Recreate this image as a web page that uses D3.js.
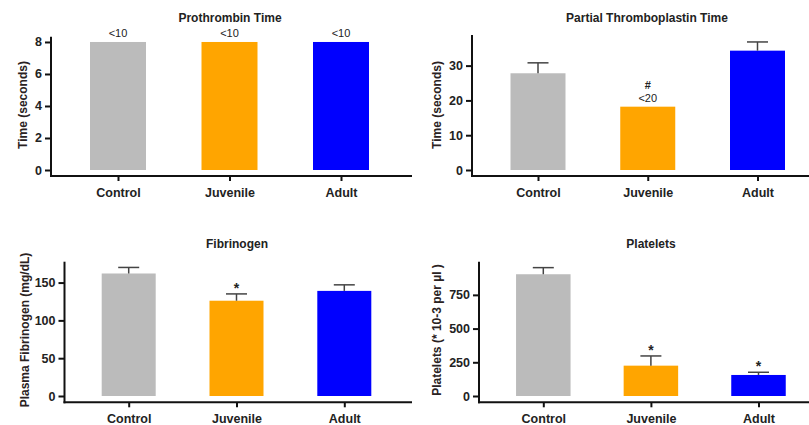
<!DOCTYPE html>
<html><head><meta charset="utf-8">
<script src="https://cdn.jsdelivr.net/npm/d3@7"></script>
<style>
body{margin:0;background:#fff;}
svg{display:block;font-family:"Liberation Sans",Arial,sans-serif;}
</style></head>
<body>
<svg id="c" width="809" height="425"></svg>
<script>
const categories = ["Control", "Juvenile", "Adult"];
const colors = ["#BBBBBB", "#FFA500", "#0000FF"];

const ptValues = [8, 8, 8];
const ptErrors = [null, null, null];
const ptTicks = [0, 2, 4, 6, 8];
const ptNotes = ["<10", "<10", "<10"];

const pttValues = [27.8, 18.2, 34.3];
const pttErrors = [30.8, null, 36.8];
const pttTicks = [0, 10, 20, 30];
const pttNotes = ["", "<20", ""];
const pttMarks = ["", "#", ""];

const fibValues = [162, 126, 139];
const fibErrors = [170, 135, 147];
const fibTicks = [0, 50, 100, 150];
const fibMarks = ["", "*", ""];

const pltValues = [903, 225, 156];
const pltErrors = [952, 297, 176];
const pltTicks = [0, 250, 500, 750];
const pltMarks = ["", "*", "*"];

const titles = ["Prothrombin Time", "Partial Thromboplastin Time", "Fibrinogen", "Platelets"];
const yLabels = ["Time (seconds)", "Time (seconds)", "Plasma Fibrinogen (mg/dL)", "Platelets (* 10-3 per µl )"];

const svg = d3.select("#c");

function panel(cfg) {
  const g = svg.append("g");
  const y = d3.scaleLinear().domain([0, cfg.yMax]).range([cfg.y0, cfg.yTop]);
  const x = d3.scalePoint().domain(categories).range([cfg.xFirst, cfg.xLast]);
  const bw = cfg.bw;

  // bars
  g.selectAll("rect.bar").data(cfg.values).join("rect")
    .attr("x", (d, i) => x(categories[i]) - bw / 2)
    .attr("y", d => y(d))
    .attr("width", bw)
    .attr("height", d => y(0) - y(d))
    .attr("fill", (d, i) => colors[i]);

  // error bars
  cfg.values.forEach((v, i) => {
    const e = cfg.errors[i];
    if (e == null) return;
    const cx = x(categories[i]);
    g.append("line").attr("x1", cx).attr("x2", cx).attr("y1", y(v)).attr("y2", y(e))
      .attr("stroke", "#444").attr("stroke-width", 1.5);
    g.append("line").attr("x1", cx - 10.5).attr("x2", cx + 10.5).attr("y1", y(e)).attr("y2", y(e))
      .attr("stroke", "#444").attr("stroke-width", 1.5);
  });

  // notes (<10 etc.) and significance marks
  cfg.values.forEach((v, i) => {
    const top = y(cfg.errors[i] != null ? cfg.errors[i] : v);
    const cx = x(categories[i]);
    let off = 5;
    if (cfg.notes && cfg.notes[i]) {
      g.append("text").attr("x", cx).attr("y", top - off).attr("text-anchor", "middle")
        .attr("font-size", 11).attr("fill", "#222").text(cfg.notes[i]);
      off += 13;
    }
    if (cfg.marks && cfg.marks[i]) {
      g.append("text").attr("x", cx).attr("y", top - off + (cfg.marks[i] === "*" ? 4 : 0)).attr("text-anchor", "middle")
        .attr("font-size", cfg.marks[i] === "*" ? 14 : 11).attr("font-weight", "bold").attr("fill", "#222").text(cfg.marks[i]);
    }
  });

  // y axis
  const yAxis = d3.axisLeft(y).tickValues(cfg.ticks).tickSize(6).tickPadding(3).tickSizeOuter(0);
  const ya = g.append("g").attr("transform", `translate(${cfg.xAxis},0)`).call(yAxis);
  ya.select(".domain").remove();
  ya.selectAll(".tick line").attr("stroke", "#111").attr("stroke-width", 2);
  ya.selectAll(".tick text").attr("font-size", 12.5).attr("font-weight", "bold").attr("fill", "#222")
    .attr("font-family", "'Liberation Sans',Arial,sans-serif");
  g.append("line").attr("x1", cfg.xAxis).attr("x2", cfg.xAxis).attr("y1", cfg.yTop).attr("y2", cfg.xAxisY + 1)
    .attr("stroke", "#111").attr("stroke-width", 2);

  // x axis
  const xAxis = d3.axisBottom(x).tickSize(5).tickPadding(7).tickSizeOuter(0);
  const xa = g.append("g").attr("transform", `translate(0,${cfg.xAxisY})`).call(xAxis);
  xa.select(".domain").remove();
  xa.selectAll(".tick line").attr("stroke", "#111").attr("stroke-width", 2);
  xa.selectAll(".tick text").attr("font-size", 12.5).attr("font-weight", "bold").attr("fill", "#222")
    .attr("font-family", "'Liberation Sans',Arial,sans-serif");
  g.append("line").attr("x1", cfg.xAxis - 1).attr("x2", cfg.xEnd).attr("y1", cfg.xAxisY).attr("y2", cfg.xAxisY)
    .attr("stroke", "#111").attr("stroke-width", 2);

  // title
  g.append("text").attr("x", cfg.titleX).attr("y", cfg.titleY).attr("text-anchor", "middle")
    .attr("font-size", 12).attr("font-weight", "bold").attr("fill", "#222").text(cfg.title);

  // y label
  g.append("text").attr("transform", `translate(${cfg.labelX},${cfg.labelY}) rotate(-90)`)
    .attr("text-anchor", "middle").attr("font-size", cfg.labelSize || 12)
    .attr("font-weight", cfg.labelWeight || "bold")
    .attr("fill", "#2a2222").text(cfg.yLabel);
}

panel({ values: ptValues, errors: ptErrors, ticks: ptTicks, notes: ptNotes,
  yMax: 8.33, y0: 170, yTop: 36.7, xAxis: 51, xAxisY: 176, xEnd: 412,
  xFirst: 118, xLast: 341, bw: 56, title: titles[0], titleX: 230, titleY: 22,
  yLabel: yLabels[0], labelX: 27, labelY: 105 });

panel({ values: pttValues, errors: pttErrors, ticks: pttTicks, notes: pttNotes, marks: pttMarks,
  yMax: 38.8, y0: 170, yTop: 35, xAxis: 472, xAxisY: 176, xEnd: 809,
  xFirst: 538, xLast: 757.5, bw: 55, title: titles[1], titleX: 647, titleY: 22,
  yLabel: yLabels[1], labelX: 441, labelY: 105 });

panel({ values: fibValues, errors: fibErrors, ticks: fibTicks, marks: fibMarks,
  yMax: 177.6, y0: 396, yTop: 261.7, xAxis: 64.5, xAxisY: 402.3, xEnd: 412,
  xFirst: 128.7, xLast: 344.3, bw: 54, title: titles[2], titleX: 237, titleY: 248,
  yLabel: yLabels[2], labelX: 29, labelY: 330, labelSize: 12 });

panel({ values: pltValues, errors: pltErrors, ticks: pltTicks, marks: pltMarks,
  yMax: 996, y0: 396, yTop: 261.7, xAxis: 479, xAxisY: 402.3, xEnd: 809,
  xFirst: 543.3, xLast: 758.5, bw: 54.5, title: titles[3], titleX: 651, titleY: 248,
  yLabel: yLabels[3], labelX: 441, labelY: 330, labelSize: 12 });
</script>
</body></html>
